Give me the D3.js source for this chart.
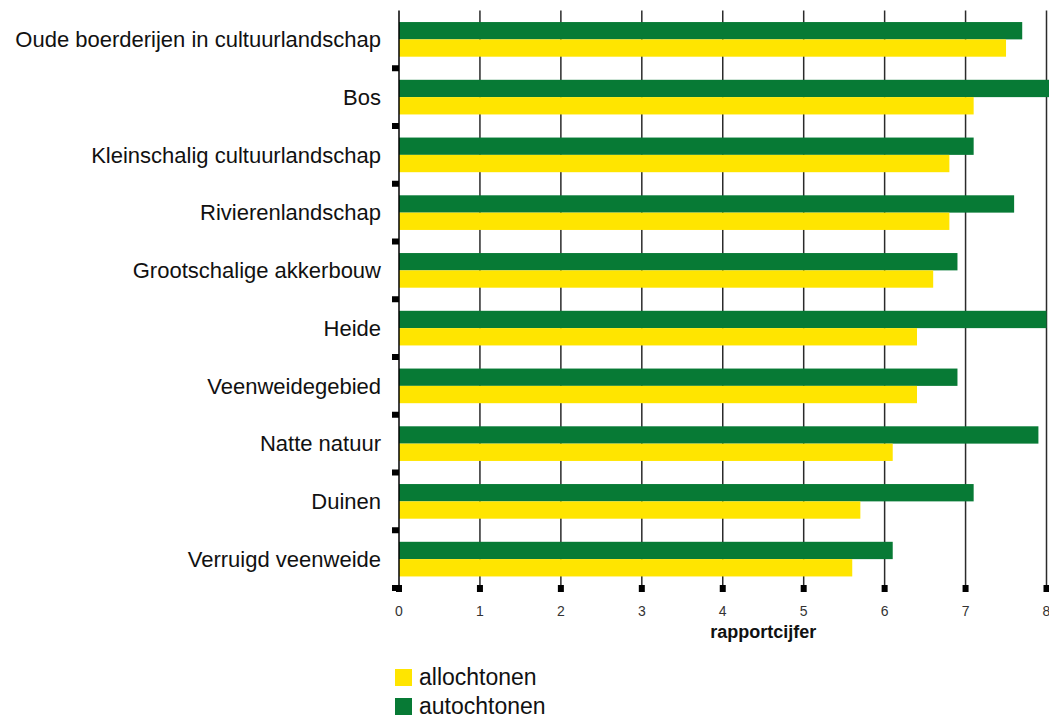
<!DOCTYPE html>
<html>
<head>
<meta charset="utf-8">
<script src="https://cdn.jsdelivr.net/npm/d3@7"></script>
<style>
  body { margin: 0; background: #fff; }
  svg { display: block; font-family: "Liberation Sans", Arial, sans-serif; }
</style>
</head>
<body>
<div id="chart"></div>
<script>
// data
var categories = [
    "Oude boerderijen in cultuurlandschap",
    "Bos",
    "Kleinschalig cultuurlandschap",
    "Rivierenlandschap",
    "Grootschalige akkerbouw",
    "Heide",
    "Veenweidegebied",
    "Natte natuur",
    "Duinen",
    "Verruigd veenweide"
];
var autochtonen = [7.7, 8.1, 7.1, 7.6, 6.9, 8.0, 6.9, 7.9, 7.1, 6.1];
var allochtonen = [7.5, 7.1, 6.8, 6.8, 6.6, 6.4, 6.4, 6.1, 5.7, 5.6];
var xTicks = [0, 1, 2, 3, 4, 5, 6, 7, 8];
var seriesNames = ["allochtonen", "autochtonen"];

var width = 1049;
var height = 717;

var margin = ({
    top: 10.5,
    right: 2.5,
    bottom: 129,
    left: 399
})

var green = "#077a35";
var yellow = "#ffe500";

var svg = d3.select("#chart")
    .append("svg")
    .attr("width", width)
    .attr("height", height)

var x = d3.scaleLinear()
    .domain([0, 8])
    .range([margin.left, width - margin.right]);

var y = d3.scaleBand()
    .domain(categories)
    .range([margin.top, height - margin.bottom])
    .paddingInner(0.4)
    .paddingOuter(0.2);

var step = y.step();

// vertical grid lines (1..8)
svg.append("g")
    .selectAll("line")
    .data(xTicks.slice(1))
    .enter().append("line")
        .attr("x1", d => x(d))
        .attr("x2", d => x(d))
        .attr("y1", margin.top)
        .attr("y2", height - margin.bottom)
        .attr("stroke", "#2b2b2b")
        .attr("stroke-width", 1.5)

svg.append("clipPath")
    .attr("id", "clip")
    .append("rect")
    .attr("x", margin.left)
    .attr("y", 0)
    .attr("width", width - margin.left)
    .attr("height", height)

var bars = svg.append("g")
    .attr("clip-path", "url(#clip)")

var half = y.bandwidth() / 2;

bars.selectAll("rect.auto")
    .data(categories)
    .enter().append("rect")
        .attr("class", "auto")
        .attr("x", x(0))
        .attr("y", d => y(d))
        .attr("width", (d, i) => x(autochtonen[i]) - x(0))
        .attr("height", half)
        .attr("fill", green)

bars.selectAll("rect.allo")
    .data(categories)
    .enter().append("rect")
        .attr("class", "allo")
        .attr("x", x(0))
        .attr("y", d => y(d) + half)
        .attr("width", (d, i) => x(allochtonen[i]) - x(0))
        .attr("height", half)
        .attr("fill", yellow)

// left axis line
svg.append("line")
    .attr("x1", x(0))
    .attr("x2", x(0))
    .attr("y1", margin.top)
    .attr("y2", height - margin.bottom)
    .attr("stroke", "#000")
    .attr("stroke-width", 1.5)

// separator marks on the left axis
svg.append("g")
    .selectAll("rect")
    .data(categories)
    .enter().append("rect")
        .attr("x", x(0) - 7)
        .attr("y", d => y(d) - y.paddingOuter() * step + step - 3)
        .attr("width", 7)
        .attr("height", 6)
        .attr("fill", "#000")

// bottom tick squares
var axisY = height - margin.bottom;
svg.append("g")
    .selectAll("rect")
    .data(xTicks)
    .enter().append("rect")
        .attr("x", d => x(d) - 3)
        .attr("y", axisY - 3)
        .attr("width", 6)
        .attr("height", 7)
        .attr("fill", "#000")

svg.append("g")
    .selectAll("text")
    .data(xTicks)
    .enter().append("text")
        .attr("x", d => x(d))
        .attr("y", axisY + 28)
        .attr("text-anchor", "middle")
        .attr("font-size", 14)
        .attr("fill", "#333")
        .text(d => d)

svg.append("text")
    .attr("x", x(4.5))
    .attr("y", axisY + 50)
    .attr("text-anchor", "middle")
    .attr("font-size", 18)
    .attr("font-weight", "bold")
    .attr("fill", "#111")
    .text("rapportcijfer")

// category labels
svg.append("g")
    .selectAll("text")
    .data(categories)
    .enter().append("text")
        .attr("x", x(0) - 18)
        .attr("y", d => y(d) + half)
        .attr("dy", "0.35em")
        .attr("text-anchor", "end")
        .attr("font-size", 22)
        .attr("fill", "#111")
        .text(d => d)

// legend
var legendColors = [yellow, green];
var legend = svg.append("g")
    .selectAll("g")
    .data(seriesNames)
    .enter().append("g")
        .attr("transform", (d, i) => `translate(${x(0) - 4}, ${669 + i * 29})`)

legend.append("rect")
    .attr("width", 17)
    .attr("height", 17)
    .attr("fill", (d, i) => legendColors[i])

legend.append("text")
    .attr("x", 24)
    .attr("y", 16)
    .attr("font-size", 23)
    .attr("fill", "#111")
    .text(d => d)
</script>
</body>
</html>
